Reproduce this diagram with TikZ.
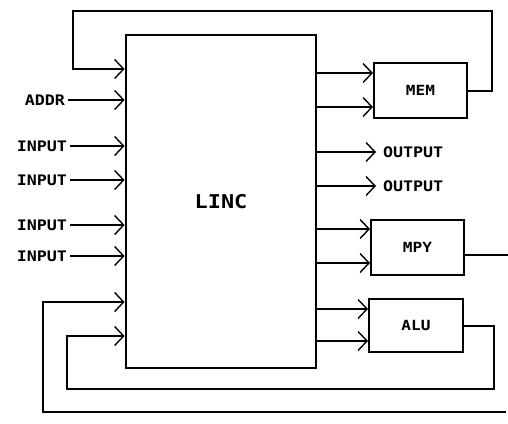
\documentclass[tikz,border=0pt]{standalone}
\usepackage{fontspec}
\newfontfamily\plotfont[FakeStretch=1.15]{DejaVu Sans Mono}
\usetikzlibrary{arrows.meta}

\begin{document}
\begin{tikzpicture}[x=1pt, y=-1pt, line width=2pt,
  >={Straight Barb[length=9pt,width=19pt,line width=1.4pt]},
  unit/.style={draw, rectangle, inner sep=0pt, line width=2pt,
    font=\plotfont\bfseries\fontsize{14}{16}\selectfont},
  sig/.style={inner sep=2pt, font=\plotfont\bfseries\fontsize{14.5}{16}\selectfont}]
\useasboundingbox (0,0) rectangle (508,423);
% boxes
\node[unit, line width=2.8pt, minimum width=190pt, minimum height=333pt,
  font=\plotfont\bfseries\fontsize{19}{22}\selectfont] (linc) at (221,201.5) {LINC};
\node[unit, minimum width=93pt, minimum height=55pt] (mem) at (420.5,90.5) {MEM};
\node[unit, minimum width=93pt, minimum height=55pt] (mpy) at (417.5,247.5) {MPY};
\node[unit, minimum width=94pt, minimum height=53pt] (alu) at (416,325.5) {ALU};
% inputs
\node[sig, anchor=east] (addr) at (68,100) {ADDR};
\node[sig, anchor=east] (in1) at (70,146) {INPUT};
\node[sig, anchor=east] (in2) at (70,180) {INPUT};
\node[sig, anchor=east] (in3) at (70,225) {INPUT};
\node[sig, anchor=east] (in4) at (70,256) {INPUT};
\draw[->] (addr.east) -- (addr.east -| linc.west);
\draw[->] (in1.east) -- (in1.east -| linc.west);
\draw[->] (in2.east) -- (in2.east -| linc.west);
\draw[->] (in3.east) -- (in3.east -| linc.west);
\draw[->] (in4.east) -- (in4.east -| linc.west);
% outputs
\node[sig, anchor=west] (out1) at (380,152) {OUTPUT};
\node[sig, anchor=west] (out2) at (380,186) {OUTPUT};
\draw[->] (out1.west -| linc.east) -- ([xshift=-4pt]out1.west);
\draw[->] (out2.west -| linc.east) -- ([xshift=-4pt]out2.west);
% to the units
\draw[->] (linc.east |- 0,73) -- (mem.west |- 0,73);
\draw[->] (linc.east |- 0,107) -- (mem.west |- 0,107);
\draw[->] (linc.east |- 0,229) -- (mpy.west |- 0,229);
\draw[->] (linc.east |- 0,263) -- (mpy.west |- 0,263);
\draw[->] (linc.east |- 0,309) -- (alu.west |- 0,309);
\draw[->] (linc.east |- 0,341) -- (alu.west |- 0,341);
% feedback
\coordinate (memtop) at (492,11);
\coordinate (memin) at (73,69);
\draw[->] (mem.east) -| (memtop) -| (memin) -- (memin -| linc.west);
\coordinate (alulow) at (494,389);
\coordinate (aluin) at (67,336);
\draw[->] (alu.east) -| (alulow) -| (aluin) -- (aluin -| linc.west);
\coordinate (busend) at (506,412);
\coordinate (busin) at (43,302);
\draw[->] (busend) -| (busin) -- (busin -| linc.west);
\coordinate (mpyout) at (508,255);
\draw (mpy.east |- mpyout) -- (mpyout);
\end{tikzpicture}
\end{document}
